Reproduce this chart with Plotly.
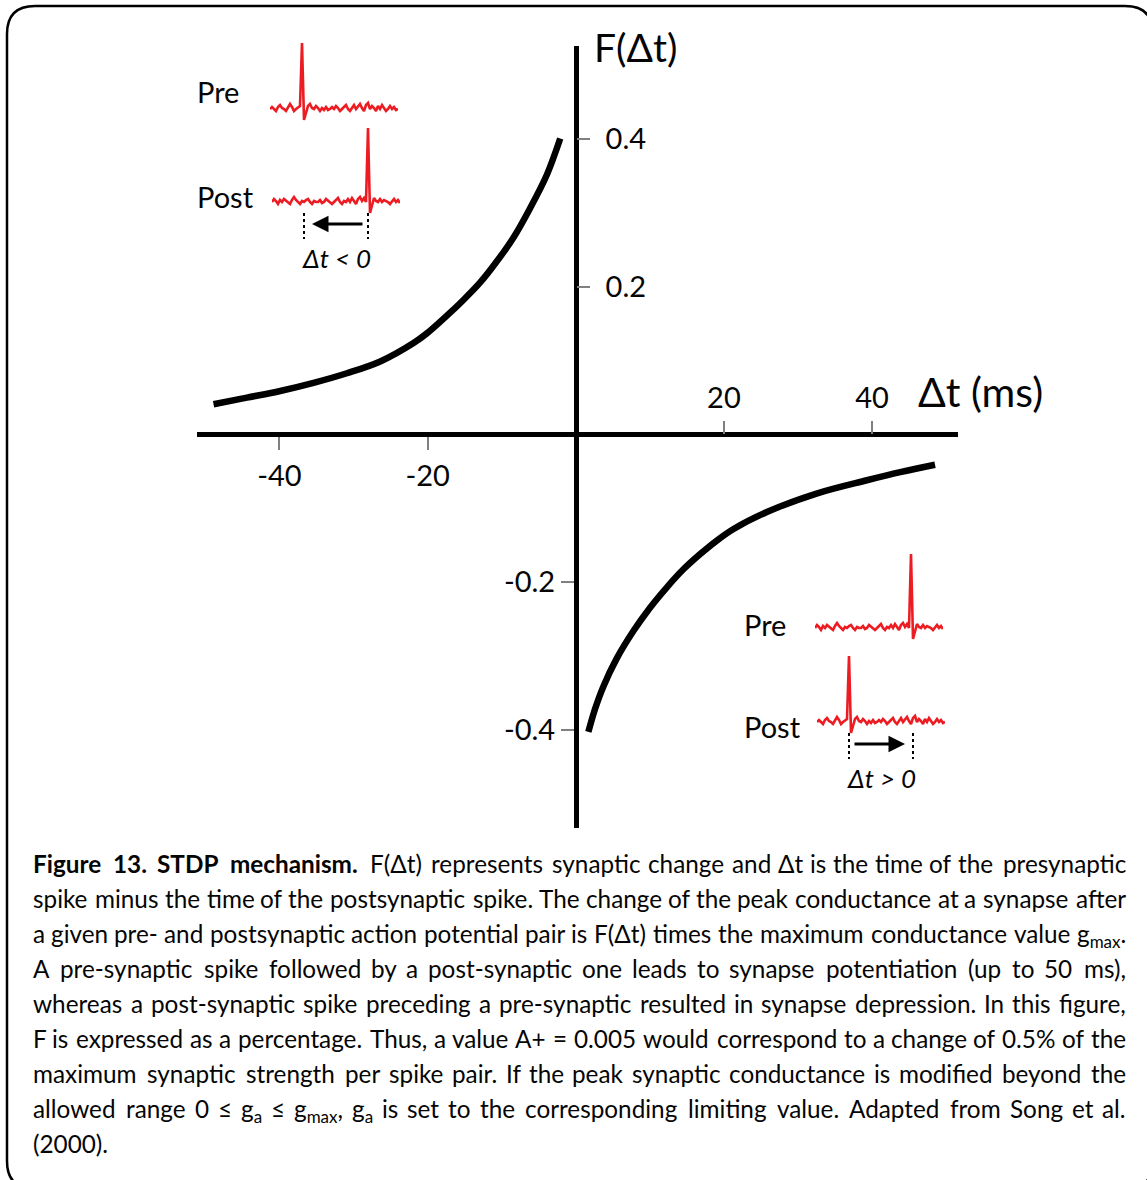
import re
import numpy as np
import plotly.graph_objects as go

W, H = 1147, 1180

# ---------------- data ----------------
# potentiation branch (dt < 0)
ltp_dt = [-48.9, -44.4, -39.9, -35.4, -30.9, -26.4, -21.9, -20.1, -17.4, -15.2,
          -12.9, -10.7, -8.4, -6.2, -3.9, -2.1]
ltp_f = [0.041, 0.050, 0.059, 0.070, 0.083, 0.099, 0.124, 0.137, 0.161, 0.182,
         0.206, 0.234, 0.267, 0.306, 0.352, 0.401]
# depression branch (dt > 0)
ltd_dt = [1.7, 2.6, 3.7, 5.5, 7.8, 10.0, 12.3, 14.5, 16.8, 19.0, 21.3, 25.8,
          32.5, 39.3, 43.8, 48.5]
ltd_f = [-0.403, -0.372, -0.342, -0.304, -0.266, -0.235, -0.207, -0.183, -0.162,
         -0.144, -0.128, -0.105, -0.080, -0.062, -0.051, -0.041]

x_neg_ticks = [-40, -20]
x_pos_ticks = [20, 40]
y_neg_ticks = [-0.4, -0.2]
y_pos_ticks = [0.2, 0.4]
y_neg_labels = ["-0.4", "-0.2"]
y_pos_labels = ["0.2", "0.4"]

# schematic spike recordings (arbitrary units)
wave_early_spike = [0, 2, 0, -2, 2, 4, 1, 0, -2, 1, 5, 2, -2, 0, 2, 3,
                    66, -11,
                    -4, 3, 5, 1, 0, 3, 1, -2,
                    1, -1, 2, -1, 0, 2, 0, 3, 1, -2, 0, 2, 4, 0, -2,
                    1, 4, 0, 3, 5, 1, -2, 4, 6, 0, 3, 1,
                    -2, 3, 0, 4, 1, -2, 0, 3, 0, 2, -1, 0]
wave_late_spike = [0, 3, 1, -2, 2, 0, 3, 1, 0, -2, 2, 5, 2, 0, -2, 1,
                   0, 2, 3, 0, -2, 1, 0, 0, 2, -1, 0, 3, 1, 0, -2,
                   0, 2, 4, 0, -2, 1, 0, 3, 0, 4, 1, -2, 3, 5, 1, 4, 0,
                   74, -11,
                   -4, 4, 1, 0, 3, 0, 2, 1, 0, -2, 1, 3, 0, 2, -1]

caption_lines = [
    "<b>Figure 13. STDP mechanism.</b> F(Δt) represents synaptic change and Δt is the time of the presynaptic",
    "spike minus the time of the postsynaptic spike. The change of the peak conductance at a synapse after",
    "a given pre- and postsynaptic action potential pair is F(Δt) times the maximum conductance value g<sub>max</sub>.",
    "A pre-synaptic spike followed by a post-synaptic one leads to synapse potentiation (up to 50 ms),",
    "whereas a post-synaptic spike preceding a pre-synaptic resulted in synapse depression. In this figure,",
    "F is expressed as a percentage. Thus, a value A+ = 0.005 would correspond to a change of 0.5% of the",
    "maximum synaptic strength per spike pair. If the peak synaptic conductance is modified beyond the",
    "allowed range 0 ≤ g<sub>a</sub> ≤ g<sub>max</sub>, g<sub>a</sub> is set to the corresponding limiting value. Adapted from Song et al.",
    "(2000).",
]

# ---------------- helpers ----------------
FONT = "Lato, 'Open Sans', sans-serif"
INK = "#050505"


def fx(px):
    return px / W


def fy(py):
    return 1 - py / H


# approximate relative glyph advances (em) used only to spread words for justification
_ADV = {
    " ": 0.193, "a": 0.483, "b": 0.549, "c": 0.45, "d": 0.549, "e": 0.518, "f": 0.319,
    "g": 0.502, "h": 0.549, "i": 0.233, "j": 0.233, "k": 0.506, "l": 0.233, "m": 0.82,
    "n": 0.549, "o": 0.549, "p": 0.543, "q": 0.549, "r": 0.375, "s": 0.421, "t": 0.363,
    "u": 0.549, "v": 0.508, "w": 0.76, "x": 0.49, "y": 0.508, "z": 0.45,
    ".": 0.22, ",": 0.22, "-": 0.35, "(": 0.31, ")": 0.31, "%": 0.83, "+": 0.58,
    "=": 0.58, "≤": 0.58, "Δ": 0.66, "F": 0.535, "A": 0.68, "T": 0.575, "I": 0.27,
    "S": 0.53, "D": 0.72, "P": 0.6,
}


def _plain_w(s):
    return sum(_ADV.get(ch, 0.58 if ch.isdigit() else 0.65) for ch in s)


def word_em(word):
    w = 0.0
    for part in re.split(r"(<sub>.*?</sub>)", word):
        if part.startswith("<sub>"):
            w += 0.7 * _plain_w(part[5:-6])
        else:
            w += _plain_w(re.sub(r"<.*?>", "", part))
    return w


# main plot geometry (pixels)
dom_x = [fx(196.5), fx(958)]
dom_y = [fy(827.5), fy(46)]
xr = [-51.2, 51.6]
yr = [-0.5325, 0.5264]
pos_yaxis = dom_x[0] + (0 - xr[0]) / (xr[1] - xr[0]) * (dom_x[1] - dom_x[0])
pos_xaxis = dom_y[0] + (0 - yr[0]) / (yr[1] - yr[0]) * (dom_y[1] - dom_y[0])

fig = go.Figure()

curve_line = dict(color="black", width=6.5, shape="spline", smoothing=1.0)
fig.add_trace(go.Scatter(x=ltp_dt, y=ltp_f, mode="lines", line=curve_line,
                         xaxis="x", yaxis="y", hoverinfo="skip"))
fig.add_trace(go.Scatter(x=ltd_dt, y=ltd_f, mode="lines", line=curve_line,
                         xaxis="x", yaxis="y", hoverinfo="skip"))
# invisible anchor trace for the secondary (overlaid) axes
fig.add_trace(go.Scatter(x=[0], y=[0], mode="markers", marker=dict(opacity=0),
                         xaxis="x2", yaxis="y2", hoverinfo="skip"))

tick_common = dict(ticks="outside", ticklen=13, tickwidth=1.5, tickcolor="#808080",
                   showgrid=False, zeroline=False, fixedrange=True,
                   tickfont=dict(family=FONT, size=29, color=INK))

layout = dict(
    width=W, height=H, autosize=False,
    margin=dict(l=0, r=0, t=0, b=0, pad=0),
    paper_bgcolor="white", plot_bgcolor="rgba(0,0,0,0)",
    showlegend=False,
    xaxis=dict(domain=dom_x, range=xr, anchor="free", position=pos_xaxis, side="bottom",
               showline=True, linewidth=4.5, linecolor="black",
               tickvals=x_neg_ticks, ticktext=[str(v) for v in x_neg_ticks],
               ticklabelstandoff=1, **tick_common),
    xaxis2=dict(range=xr, overlaying="x", anchor="free", position=pos_xaxis, side="top",
                showline=False,
                tickvals=x_pos_ticks, ticktext=[str(v) for v in x_pos_ticks],
                ticklabelstandoff=2, **tick_common),
    yaxis=dict(domain=dom_y, range=yr, anchor="free", position=pos_yaxis, side="left",
               showline=True, linewidth=4.5, linecolor="black",
               tickvals=y_neg_ticks, ticktext=y_neg_labels,
               ticklabelstandoff=0, **tick_common),
    yaxis2=dict(range=yr, overlaying="y", anchor="free", position=pos_yaxis, side="right",
                showline=False,
                tickvals=y_pos_ticks, ticktext=y_pos_labels,
                ticklabelstandoff=10, **tick_common),
)

# ---------------- spike insets ----------------
inset_rng_y = [-62, 76]
n_samp = len(wave_early_spike)
samp = list(range(n_samp))
# (axis number, left px, baseline px, waveform)
insets = [
    (3, 270, 109, wave_early_spike),   # top-left Pre
    (4, 272, 202, wave_late_spike),    # top-left Post
    (5, 815, 628, wave_late_spike),    # bottom-right Pre
    (6, 817, 722, wave_early_spike),   # bottom-right Post
]
for k, left, base, wave in insets:
    width_px = 2 * (n_samp - 1)
    layout[f"xaxis{k}"] = dict(domain=[fx(left), fx(left + width_px)], range=[0, n_samp - 1],
                               anchor=f"y{k}", visible=False, fixedrange=True)
    layout[f"yaxis{k}"] = dict(domain=[fy(base - inset_rng_y[0]), fy(base - inset_rng_y[1])],
                               range=inset_rng_y, anchor=f"x{k}", visible=False, fixedrange=True)
    fig.add_trace(go.Scatter(x=samp, y=wave, mode="lines",
                             line=dict(color="#ec1c22", width=2.6),
                             xaxis=f"x{k}", yaxis=f"y{k}", hoverinfo="skip"))

fig.update_layout(**layout)

early_idx = int(np.argmax(wave_early_spike))
late_idx = int(np.argmax(wave_late_spike))

shapes = []
annotations = []


def delta_marker(k, i_from, i_to, sign_text):
    # dotted guides at the two spike times, arrow between them
    for i in (i_from, i_to):
        shapes.append(dict(type="line", xref=f"x{k}", yref=f"y{k}", x0=i, x1=i, y0=-11, y1=-37,
                           line=dict(color="black", width=2, dash="dot")))
    d = 1 if i_to > i_from else -1
    annotations.append(dict(xref=f"x{k}", yref=f"y{k}", axref=f"x{k}", ayref=f"y{k}",
                            x=i_to - d * 4, y=-22, ax=i_from + d * 2, ay=-22,
                            text="", showarrow=True, arrowhead=2, arrowsize=1.1,
                            arrowwidth=3, arrowcolor="black"))
    annotations.append(dict(xref=f"x{k}", yref=f"y{k}", x=(i_from + i_to) / 2, y=-56,
                            text=sign_text, showarrow=False, xanchor="center", yanchor="middle",
                            font=dict(family=FONT, size=26, color=INK, style="italic")))


delta_marker(4, late_idx, early_idx, "Δt &lt; 0")
delta_marker(6, early_idx, late_idx, "Δt &gt; 0")

for txt, left, cy in [("Pre", 195, 92), ("Post", 195, 196), ("Pre", 742, 624), ("Post", 742, 726)]:
    annotations.append(dict(xref="paper", yref="paper", x=fx(left), y=fy(cy), text=txt,
                            showarrow=False, xanchor="left", yanchor="middle",
                            font=dict(family=FONT, size=29, color=INK)))

# axis titles
annotations.append(dict(xref="paper", yref="paper", x=fx(592), y=fy(47), text="F(Δt)",
                        showarrow=False, xanchor="left", yanchor="middle",
                        font=dict(family=FONT, size=39, color=INK)))
annotations.append(dict(xref="paper", yref="paper", x=fx(916), y=fy(391), text="Δt (ms)",
                        showarrow=False, xanchor="left", yanchor="middle",
                        font=dict(family=FONT, size=41, color=INK)))

# ---------------- caption (justified word by word) ----------------
CAP_SIZE = 24.3
CAP_L, CAP_R = 33, 1126
# calibrate em estimate against measured natural width of full lines
_calib = [(caption_lines[1], 1087), (caption_lines[2], 1088), (caption_lines[5], 1078)]
_scale = np.mean([w / (word_em(s.replace("<b>", "").replace("</b>", "")) * CAP_SIZE) for s, w in _calib])

for i, line in enumerate(caption_lines):
    base = 873 + 35 * i
    ytop = fy(base - 24)
    cap_font = dict(family=FONT, size=CAP_SIZE, color=INK)
    if i == len(caption_lines) - 1:
        annotations.append(dict(xref="paper", yref="paper", x=fx(CAP_L), y=ytop, text=line,
                                showarrow=False, xanchor="left", yanchor="top",
                                borderpad=0, borderwidth=0, font=cap_font))
        continue
    words = line.split(" ")
    bold = False
    items = []
    for wd in words:
        if wd.startswith("<b>"):
            bold = True
        clean = wd.replace("<b>", "").replace("</b>", "")
        wpx = word_em(clean) * CAP_SIZE * _scale * (1.06 if bold else 1.0)
        items.append((f"<b>{clean}</b>" if bold else clean, wpx))
        if wd.endswith("</b>"):
            bold = False
    total = sum(w for _, w in items)
    gap = (CAP_R - CAP_L - total) / (len(items) - 1)
    xcur = CAP_L
    for j, (txt, wpx) in enumerate(items):
        if j == 0:
            xa, anc = xcur, "left"
        elif j == len(items) - 1:
            xa, anc = CAP_R, "right"
        else:
            xa, anc = xcur + wpx / 2, "center"
        annotations.append(dict(xref="paper", yref="paper", x=fx(xa), y=ytop, text=txt,
                                showarrow=False, xanchor=anc, yanchor="top",
                                borderpad=0, borderwidth=0, font=cap_font))
        xcur += wpx + gap

# rounded frame
L, T, R, B, r = 7, 6, 1153, 1189, 28
path = (f"M {fx(L)} {fy(T + r)} Q {fx(L)} {fy(T)} {fx(L + r)} {fy(T)} "
        f"L {fx(R - r)} {fy(T)} Q {fx(R)} {fy(T)} {fx(R)} {fy(T + r)} "
        f"L {fx(R)} {fy(B - r)} Q {fx(R)} {fy(B)} {fx(R - r)} {fy(B)} "
        f"L {fx(L + r)} {fy(B)} Q {fx(L)} {fy(B)} {fx(L)} {fy(B - r)} Z")
shapes.append(dict(type="path", xref="paper", yref="paper", path=path,
                   line=dict(color="black", width=2.5), fillcolor="rgba(0,0,0,0)"))

fig.update_layout(shapes=shapes, annotations=annotations)

fig.write_html("out.html")
